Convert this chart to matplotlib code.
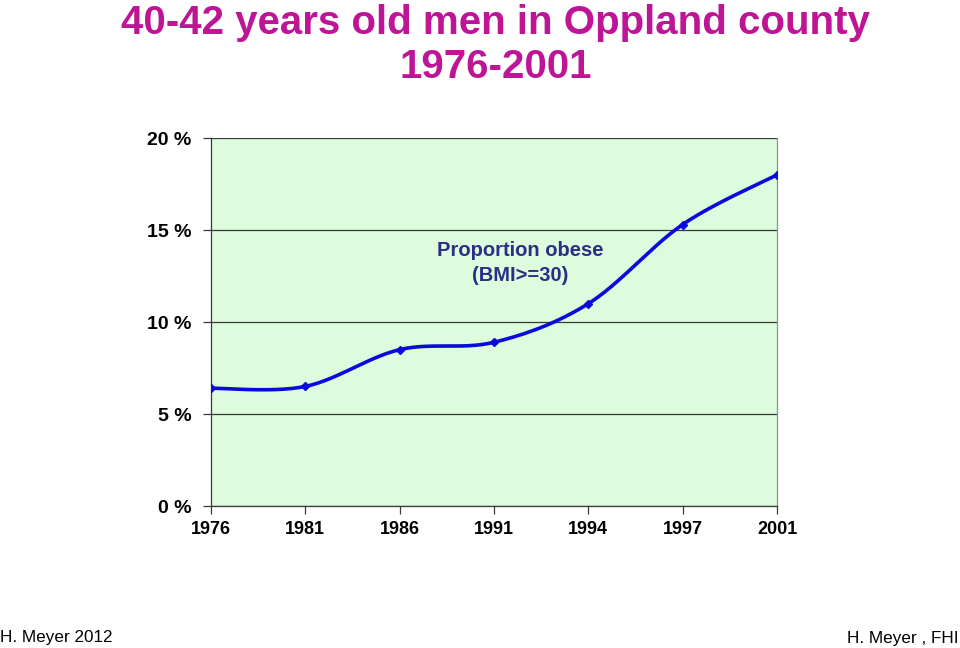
import numpy as np
import matplotlib.pyplot as plt

years = ["1976", "1981", "1986", "1991", "1994", "1997", "2001"]
obese = [6.4, 6.5, 8.5, 8.9, 11.0, 15.3, 18.0]
yticks = [0, 5, 10, 15, 20]
ylabels = ["0 %", "5 %", "10 %", "15 %", "20 %"]


def smooth(x, y, n=30):
    # excel-style smoothed line: cubic bezier between points, catmull-rom tangents
    x = np.asarray(x, float)
    y = np.asarray(y, float)
    px = np.concatenate([[x[0]], x, [x[-1]]])
    py = np.concatenate([[y[0]], y, [y[-1]]])
    xs, ys = [], []
    t = np.linspace(0, 1, n)
    for i in range(len(x) - 1):
        p0 = np.array([px[i + 1], py[i + 1]])
        p3 = np.array([px[i + 2], py[i + 2]])
        p1 = p0 + (np.array([px[i + 2], py[i + 2]]) - np.array([px[i], py[i]])) / 6
        p2 = p3 - (np.array([px[i + 3], py[i + 3]]) - np.array([px[i + 1], py[i + 1]])) / 6
        b = ((1 - t) ** 3)[:, None] * p0 + (3 * (1 - t) ** 2 * t)[:, None] * p1 \
            + (3 * (1 - t) * t ** 2)[:, None] * p2 + (t ** 3)[:, None] * p3
        xs.extend(b[:, 0])
        ys.extend(b[:, 1])
    return xs, ys


plt.rcParams['font.family'] = ['Liberation Sans', 'DejaVu Sans']

fig = plt.figure(figsize=(9.6, 6.48), dpi=100)
ax = fig.add_axes([0.2198, 0.2191, 0.5896, 0.5679])
ax.set_facecolor('#DDFBDD')

xpos = np.arange(len(years))
sx, sy = smooth(xpos, obese)
ax.plot(sx, sy, color='#0A0ADC', lw=2.6, solid_capstyle='round', zorder=3)
ax.plot(xpos, obese, ls='none', marker='D', ms=4, color='#0A0ADC', zorder=4)

ax.set_xlim(0, len(years) - 1)
ax.set_ylim(0, 20)
ax.set_xticks(xpos)
ax.set_xticklabels(years, fontsize=13, fontweight='bold')
ax.set_yticks(yticks)
ax.set_yticklabels(ylabels, fontsize=14, fontweight='bold')
ax.yaxis.grid(True, color='#3a3a3a', lw=0.9)
ax.set_axisbelow(True)
ax.tick_params(axis='both', direction='out', length=6, width=0.9, color='#3a3a3a')
ax.tick_params(axis='x', pad=5)
ax.tick_params(axis='y', pad=8)
ax.spines['top'].set_visible(False)
ax.spines['right'].set_color('#909090')
ax.spines['left'].set_color('#3a3a3a')
ax.spines['bottom'].set_color('#3a3a3a')
for s in ax.spines.values():
    s.set_linewidth(0.9)

ax.text(3.28, 13.2, "Proportion obese\n(BMI>=30)", ha='center', va='center',
        fontsize=14.5, fontweight='bold', color='#2B2E85', linespacing=1.4)

fig.text(0.516, 0.994, "40-42 years old men in Oppland county\n1976-2001",
         ha='center', va='top', fontsize=29, fontweight='bold', color='#BE1496',
         linespacing=1.22)

fig.text(0.0, 0.01, "H. Meyer 2012", ha='left', va='baseline', fontsize=12.3)
fig.text(0.998, 0.007, "H. Meyer , FHI", ha='right', va='baseline', fontsize=12.3)

fig.savefig("out.png", dpi=100)
